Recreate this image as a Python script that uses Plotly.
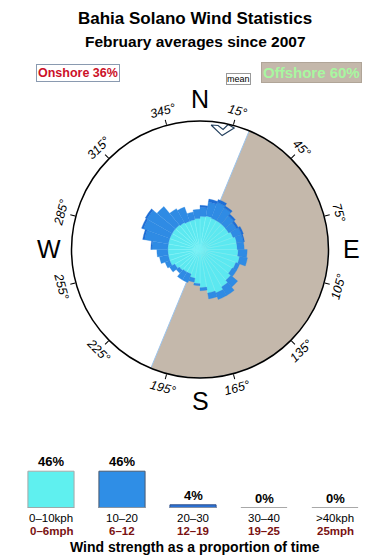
import math
import plotly.graph_objects as go

W, H = 390, 560

# ---- data ----
sector_deg = [5 + 10 * i for i in range(36)]
light = [33, 34, 33, 33, 33, 33, 35, 37, 37, 38, 40, 38, 37, 40, 43, 46, 44, 38,
         34, 29, 26, 26, 27, 29, 32, 32, 32, 32, 32, 32, 32, 32, 31, 30, 30, 31]
moderate = [9, 14, 17, 15, 11, 9, 9, 7, 7, 9, 8, 4, 5, 9, 10, 7, 6, 3,
            2, 4, 9, 9, 4, 6, 5, 9, 11, 16, 24, 28, 29, 24, 16, 15, 8, 9]
strong = [2, 3, 3, 2, 2, 2, 2, 1, 0, 0, 0, 0, 0, 0, 0, 0, 0, 0,
          0, 0, 0, 0, 0, 0, 0, 0, 0, 1, 2, 2, 2, 0, 0, 0, 0, 0]
rose_max = 128

offshore_from, offshore_to = 22.5, 202.5

# mean-direction marker outline (radius, angle)
mean_r = [124.5, 124.8, 121.7, 127.6, 125.7, 115.6, 124.5]
mean_t = [5.1, 8.3, 10.9, 12.7, 15.7, 11.0, 5.1]

deg_ticks = [15, 45, 75, 105, 135, 165, 195, 225, 255, 285, 315, 345]
cardinals = ["N", "E", "S", "W"]
cardinal_deg = [0, 90, 180, 270]

bins_kph = ["0–10kph", "10–20", "20–30", "30–40", ">40kph"]
bins_mph = ["0–6mph", "6–12", "12–19", "19–25", "25mph"]
bins_pct = [46, 46, 4, 0, 0]
bin_colors = ["#5ff0ef", "#2f8ee6", "#2a72d8", "#aaaaaa", "#aaaaaa"]
bin_lines = ["#a8a8a8", "#4a5a70", "#30508a", "#aaaaaa", "#aaaaaa"]

C_LIGHT = "#5ce8f0"
C_MOD = "#2f8be4"
C_STRONG = "#1f6fd6"
C_OFF = "#c4b8ab"

# ---- layout geometry ----
px0, px1 = 71, 329
py0, py1 = 121, 378
dom_x = [px0 / W, px1 / W]
dom_y = [(H - py1) / H, (H - py0) / H]
cx = (px0 + px1) / 2
cy = (py0 + py1) / 2

fig = go.Figure()

# offshore sector
fig.add_trace(go.Barpolar(
    r=[rose_max], theta=[(offshore_from + offshore_to) / 2], width=[offshore_to - offshore_from],
    marker=dict(color=C_OFF, line=dict(color="#9cc4ec", width=1)),
    showlegend=False, hoverinfo="skip"))

for vals, col, lc, lw in [(light, C_LIGHT, "#7ff2f6", 0.5),
                          (moderate, C_MOD, C_MOD, 0.3),
                          (strong, C_STRONG, C_STRONG, 0.3)]:
    fig.add_trace(go.Barpolar(
        r=vals, theta=sector_deg, width=[10] * 36,
        marker=dict(color=col, line=dict(color=lc, width=lw)),
        showlegend=False, hoverinfo="skip"))

# mean arrow (outlined arrowhead pointing inward)
fig.add_trace(go.Scatterpolar(
    r=mean_r, theta=mean_t, mode="lines", fill="toself", fillcolor="white",
    line=dict(color="#23405e", width=1.2), showlegend=False, hoverinfo="skip"))

fig.update_layout(
    width=W, height=H, margin=dict(l=0, r=0, t=0, b=0),
    paper_bgcolor="white", plot_bgcolor="white",
    font=dict(family="Liberation Sans, Arial, sans-serif", color="black"),
    polar=dict(
        domain=dict(x=dom_x, y=dom_y),
        bgcolor="white",
        barmode="stack",
        bargap=0,
        radialaxis=dict(visible=False, range=[0, rose_max]),
        angularaxis=dict(rotation=90, direction="clockwise", showgrid=False,
                         linecolor="black", linewidth=1.5,
                         tickmode="array", tickvals=deg_ticks,
                         ticks="outside", ticklen=5, tickcolor="black",
                         showticklabels=False),
    ),
)

annotations = []


def ann(**kw):
    kw.setdefault("xanchor", "center")
    kw.setdefault("yanchor", "middle")
    kw.setdefault("showarrow", False)
    annotations.append(kw)


def pos(theta, rpx):
    t = math.radians(theta)
    x = cx + rpx * math.sin(t)
    y = cy - rpx * math.cos(t)
    return x / W, (H - y) / H


for d in deg_ticks:
    x, y = pos(d, 143)
    ang = d if d <= 90 else (d - 180 if d < 270 else d - 360)
    ann(x=x, y=y, xref="paper", yref="paper", text=f"<i>{d}°</i>", textangle=ang,
        font=dict(size=12.5, color="black"))
for lab, d in zip(cardinals, cardinal_deg):
    x, y = pos(d, 151)
    ann(x=x, y=y, xref="paper", yref="paper", text=lab, font=dict(size=25, color="black"))

# titles
ann(x=0.5, y=(H - 18) / H, xref="paper", yref="paper",
    text="<b>Bahia Solano Wind Statistics</b>", font=dict(size=17))
ann(x=0.5, y=(H - 42) / H, xref="paper", yref="paper",
    text="<b>February averages since 2007</b>", font=dict(size=15.5))

# top legend boxes
ann(x=77.5 / W, y=(H - 73) / H, xref="paper", yref="paper",
    text="<b>Onshore 36%</b>", font=dict(size=12.5, color="#cc1028"),
    bgcolor="white", bordercolor="#8a9ab0", borderwidth=1, borderpad=1)
ann(x=238 / W, y=(H - 79) / H, xref="paper", yref="paper",
    text="mean", font=dict(size=9, color="black"),
    bgcolor="white", bordercolor="#999999", borderwidth=1, borderpad=0)
ann(x=311 / W, y=(H - 72) / H, xref="paper", yref="paper",
    text="<b>Offshore 60%</b>", font=dict(size=15, color="#a8f7a0"),
    bgcolor=C_OFF, bordercolor="#b0a598", borderwidth=1, borderpad=1)

# ---- bottom strength bars ----
xs = list(range(len(bins_pct)))
bar_w = 0.65
fig.add_trace(go.Bar(
    x=xs, y=bins_pct, width=[bar_w] * len(xs),
    marker=dict(color=bin_colors, line=dict(color=bin_lines, width=1)),
    xaxis="x", yaxis="y", showlegend=False, hoverinfo="skip"))

base_y = 508
fig.update_layout(
    xaxis=dict(domain=[0, 1], range=[-51 / 71, (W - 51) / 71], visible=False, fixedrange=True),
    yaxis=dict(domain=[(H - base_y) / H, (H - base_y + 80) / H], range=[0, 100],
               visible=False, fixedrange=True),
)
shapes = []
for i in xs:
    shapes.append(dict(type="line", xref="x", yref="y", x0=i - bar_w / 2, x1=i + bar_w / 2,
                       y0=0, y1=0, line=dict(color="#a0a0a0", width=1.5)))
    ann(x=i, y=bins_pct[i], xref="x", yref="y", yanchor="bottom", yshift=0,
        text=f"<b>{bins_pct[i]}%</b>", font=dict(size=13, color="black"))
    ann(x=i, y=(H - 518) / H, xref="x", yref="paper", text=bins_kph[i],
        font=dict(size=11.5, color="black"))
    ann(x=i, y=(H - 531) / H, xref="x", yref="paper", text=f"<b>{bins_mph[i]}</b>",
        font=dict(size=11.5, color="#7a1212"))
ann(x=0.5, y=(H - 547) / H, xref="paper", yref="paper",
    text="<b>Wind strength as a proportion of time</b>", font=dict(size=14, color="black"))

fig.update_layout(annotations=annotations, shapes=shapes)
fig.write_html("out.html")
